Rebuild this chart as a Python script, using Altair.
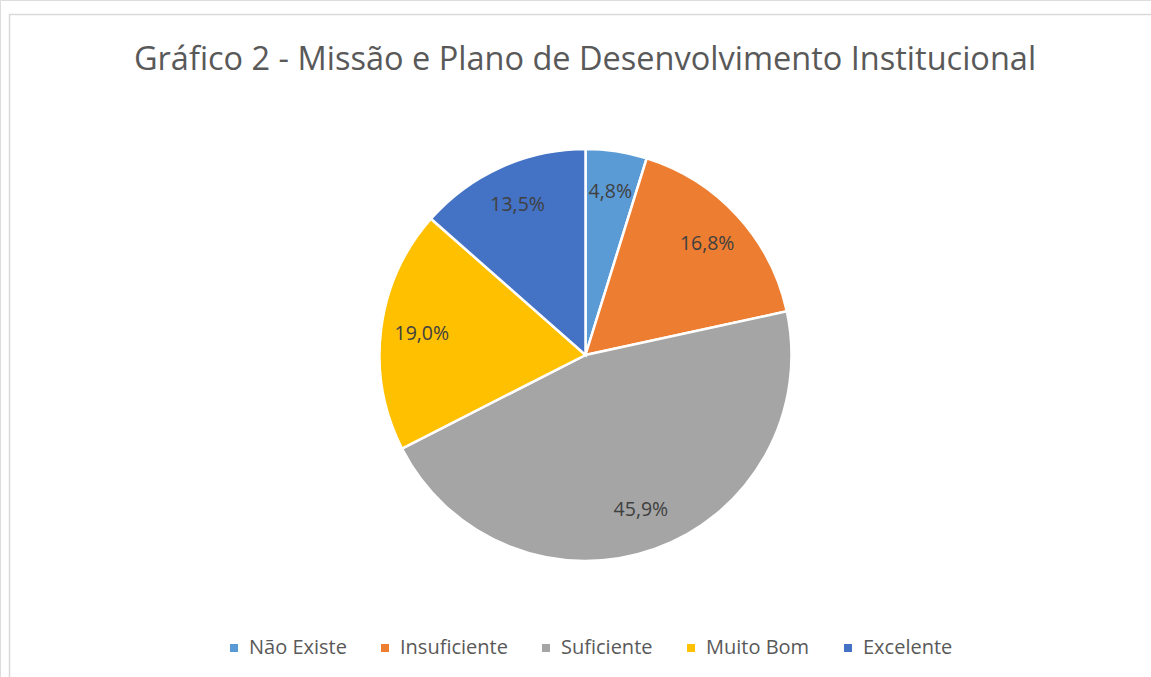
import altair as alt
import pandas as pd

categories = ["Não Existe", "Insuficiente", "Suficiente", "Muito Bom", "Excelente"]
values = [4.8, 16.8, 45.9, 19.0, 13.5]
labels = ["4,8%", "16,8%", "45,9%", "19,0%", "13,5%"]
colors = ["#5B9BD5", "#ED7D31", "#A5A5A5", "#FFC000", "#4472C4"]
title_text = "Gráfico 2 - Missão e Plano de Desenvolvimento Institucional"

df = pd.DataFrame({"cat": categories, "value": values, "label": labels, "ord": list(range(len(categories)))})

FONT = "Open Sans"
CX, CY = 585.5, 355

base = alt.Chart(df).encode(
    theta=alt.Theta("value:Q", stack=True),
    order=alt.Order("ord:Q"),
)

pie = base.mark_arc(outerRadius=206, stroke="white", strokeWidth=2.5).encode(
    x=alt.value(CX), y=alt.value(CY),
    color=alt.Color(
        "cat:N",
        scale=alt.Scale(domain=categories, range=colors),
        sort=categories,
        legend=alt.Legend(
            title=None, orient="none", direction="horizontal",
            legendX=224, legendY=638,
            symbolType="square", symbolSize=64, symbolStrokeWidth=0,
            labelFont=FONT, labelFontSize=20, labelColor="#595959",
            columnPadding=28, labelOffset=5,
        ),
    ),
)

text = base.mark_text(radius=165, font=FONT, fontSize=19.5, color="#404040").encode(
    x=alt.value(CX), y=alt.value(CY), text="label:N"
)

title = alt.Chart(pd.DataFrame({"t": [title_text]})).mark_text(
    font=FONT, fontSize=32.5, color="#595959", align="center", baseline="middle"
).encode(x=alt.value(585), y=alt.value(60), text="t:N")

border_top = alt.Chart(pd.DataFrame({"a": [0]})).mark_rule(color="#D9D9D9", strokeWidth=1.5).encode(
    x=alt.value(9), x2=alt.value(1151), y=alt.value(14.5)
)
border_left = alt.Chart(pd.DataFrame({"a": [0]})).mark_rule(color="#D9D9D9", strokeWidth=1.5).encode(
    x=alt.value(9.5), y=alt.value(14), y2=alt.value(677)
)

chart = alt.layer(border_top, border_left, title, pie, text).properties(
    width=1151, height=677, padding=0, autosize=alt.AutoSizeParams(type="none")
).configure_view(stroke=None).configure(background="white")

chart.save("out.html", embed_options={"renderer": "svg", "actions": False})
